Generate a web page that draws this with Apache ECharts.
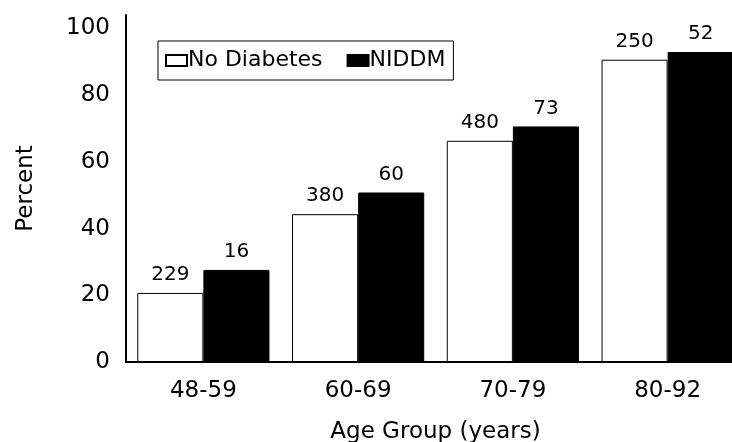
<!DOCTYPE html>
<html>
<head>
<meta charset="utf-8">
<script src="https://cdn.jsdelivr.net/npm/echarts@6/dist/echarts.min.js"></script>
<style>
html,body{margin:0;padding:0;background:#fff;}
#chart{width:732px;height:442px;}
</style>
</head>
<body>
<div id="chart"></div>
<script>
var categories = ['48-59', '60-69', '70-79', '80-92'];
var noDiabetes = [20.7, 44.3, 66.3, 90.6];
var niddm = [27.6, 50.8, 70.6, 92.9];
var noDiabetesN = ['229', '380', '480', '250'];
var niddmN = ['16', '60', '73', '52'];
var yTicks = [0, 20, 40, 60, 80, 100];

var FONT = '"DejaVu Sans", sans-serif';
var chart = echarts.init(document.getElementById('chart'), null, {renderer: 'canvas'});

function labelFor(arr) {
  return {
    show: true,
    position: 'top',
    distance: 8,
    color: '#000',
    fontFamily: FONT,
    fontSize: 20,
    formatter: function (p) { return arr[p.dataIndex]; }
  };
}

chart.setOption({
  animation: false,
  backgroundColor: '#fff',
  textStyle: {fontFamily: FONT, color: '#000'},
  legend: {
    left: 158,
    top: 41,
    padding: [7, 8, 7, 7],
    borderColor: '#000',
    borderWidth: 1,
    icon: 'rect',
    itemWidth: 21,
    itemHeight: 11,
    itemGap: 24,
    selectedMode: false,
    textStyle: {fontFamily: FONT, fontSize: 22, color: '#000', lineHeight: 25, padding: [0, 0, 0, -4]},
    data: ['No Diabetes', 'NIDDM']
  },
  grid: {left: 126, width: 619, top: 15, bottom: 80, containLabel: false, outerBoundsMode: 'none'},
  xAxis: {
    type: 'category',
    data: categories,
    name: 'Age Group (years)',
    nameLocation: 'middle',
    nameGap: 59,
    nameTextStyle: {fontFamily: FONT, fontSize: 23, color: '#000'},
    axisLine: {lineStyle: {color: '#000', width: 2}},
    axisTick: {show: false},
    axisLabel: {fontFamily: FONT, fontSize: 23, color: '#000', margin: 18}
  },
  yAxis: {
    type: 'value',
    min: 0,
    max: 104,
    interval: 20,
    name: 'Percent',
    nameLocation: 'middle',
    nameGap: 88,
    nameRotate: 90,
    nameTextStyle: {fontFamily: FONT, fontSize: 23, color: '#000'},
    axisLine: {show: true, lineStyle: {color: '#000', width: 2}},
    axisTick: {show: false},
    splitLine: {show: false},
    axisLabel: {
      fontFamily: FONT, fontSize: 23, color: '#000', margin: 16,
      showMaxLabel: false,
      formatter: function (v) { return yTicks.indexOf(v) >= 0 ? String(v) : ''; }
    }
  },
  series: [
    {
      name: 'No Diabetes',
      type: 'bar',
      data: noDiabetes,
      barGap: '0%',
      barCategoryGap: '14.6%',
      itemStyle: {color: '#fff', borderColor: '#000', borderWidth: 1},
      label: labelFor(noDiabetesN)
    },
    {
      name: 'NIDDM',
      type: 'bar',
      data: niddm,
      barGap: '0%',
      barCategoryGap: '14.6%',
      itemStyle: {color: '#000', borderColor: '#000', borderWidth: 1},
      label: labelFor(niddmN)
    }
  ]
});
</script>
</body>
</html>
